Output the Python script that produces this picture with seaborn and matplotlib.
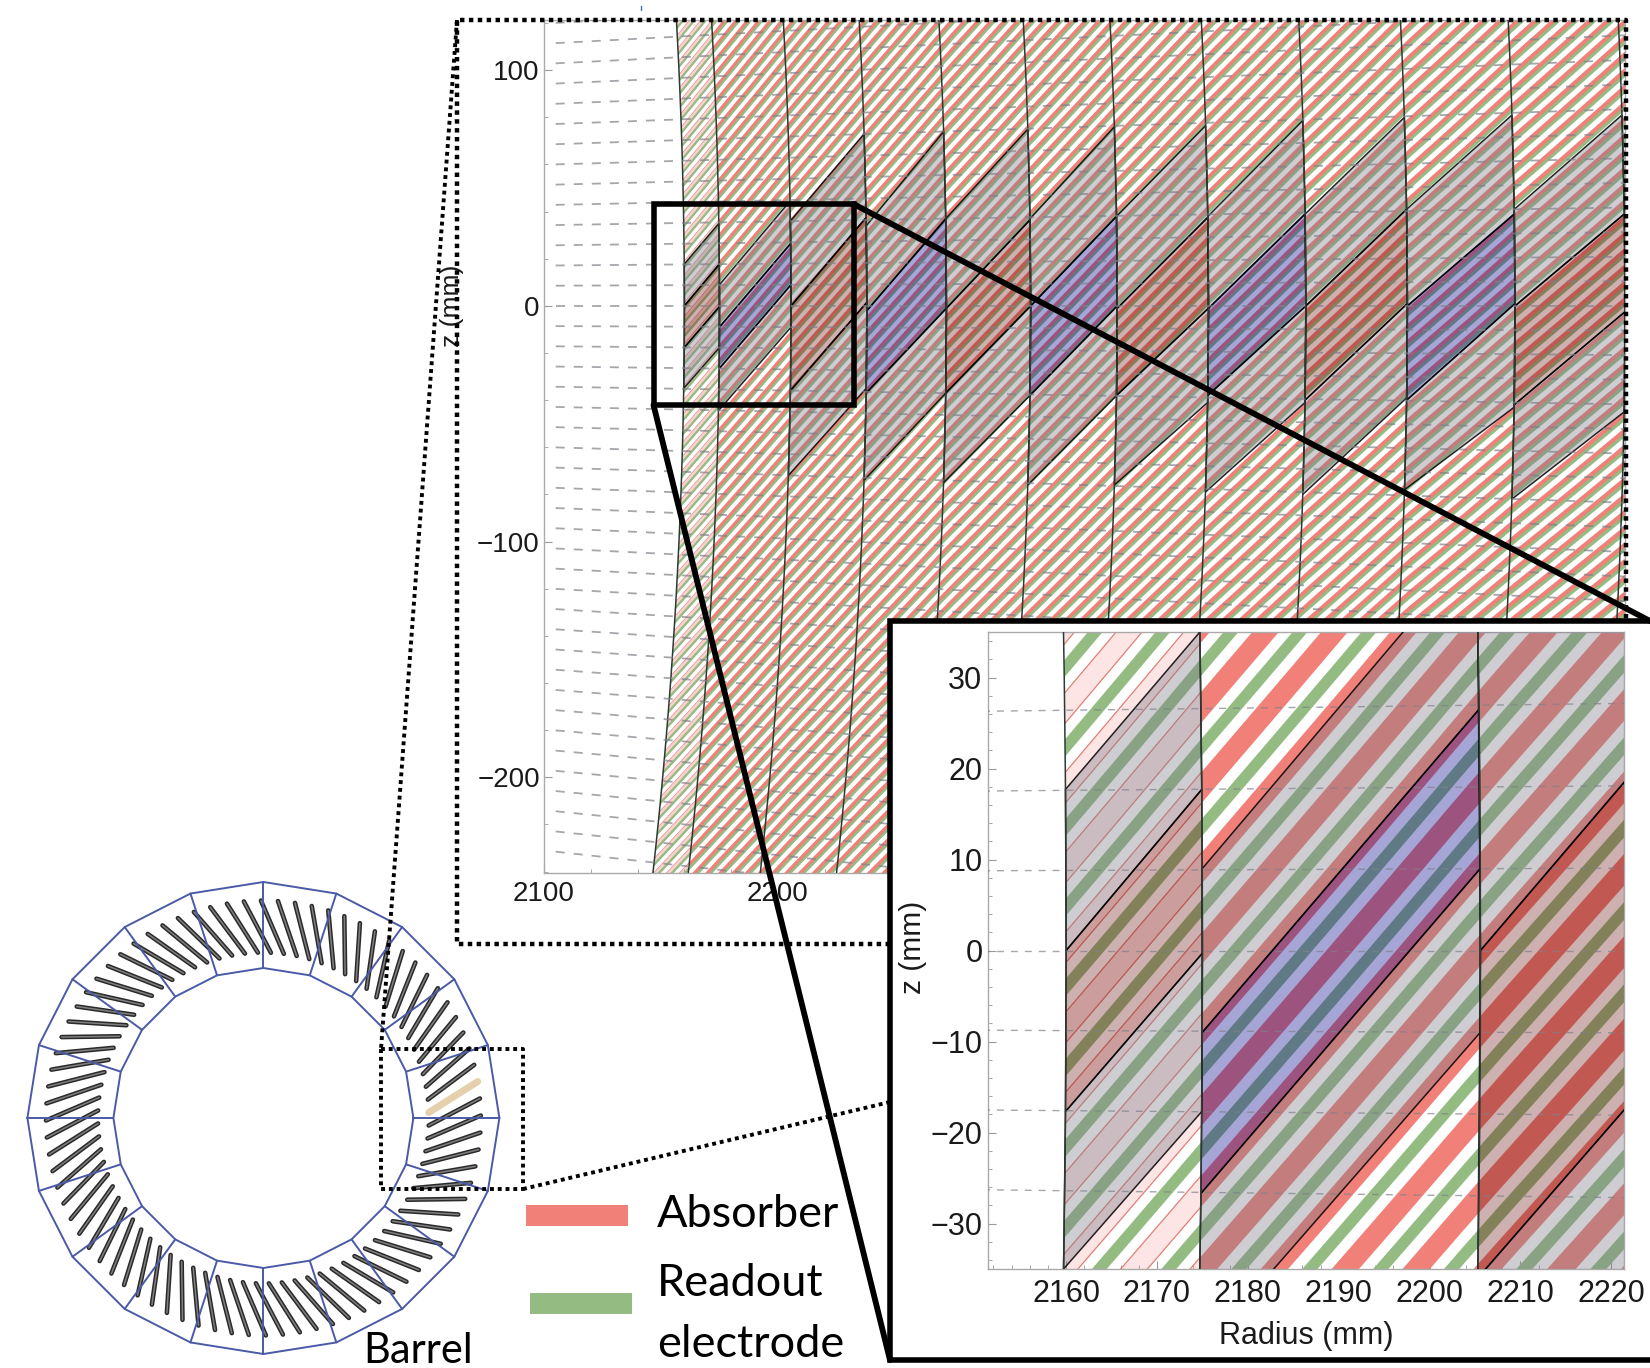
import numpy as np
import pandas as pd
import matplotlib
matplotlib.use('Agg')
import matplotlib.pyplot as plt
from matplotlib.collections import PolyCollection
from matplotlib.path import Path
from matplotlib.patches import Polygon, Rectangle
from matplotlib.ticker import MultipleLocator
import seaborn as sns

sns.set_theme(style='ticks')
plt.rcParams['font.family'] = ['Liberation Sans', 'DejaVu Sans']

# --- Values ---
layer_radius = [2160, 2175, 2205.6, 2238, 2272, 2308, 2345, 2384, 2425.6, 2469, 2515, 2562]

# z of the four tile edges at the inner and outer radius of each layer
tile_z_in = [[17.7, 0, -17.7, -35], [9, -9, -26.7, -44.5], [36, 0, -36, -72], [34, -2, -37, -74],
             [37, -1, -37, -75], [37, 0, -38, -76], [38, -1, -38, -76], [38, -1, -38, -79],
             [39, 0, -40, -80], [41, 0, -40, -78], [41, 0, -42, -82]]
tile_z_out = [[35, 17.7, -0.3, -17.7], [44.5, 26.5, 9, -9], [73, 37.5, 1.5, -35], [74, 37, -1, -37],
              [75, 36.5, 0, -38], [76, 38, 0, -38], [76.5, 37.6, -1, -41], [78.7, 39, 0, -41],
              [80, 41, 1, -39], [81, 39, 1, -43], [81, 39, -2.5, -45]]
tile_middle = ['red', 'blue', 'red', 'blue', 'red', 'blue', 'red', 'blue', 'red', 'blue', 'red']

# how far a plate has moved in z (at r=2160) by each radius
plate_r = [2130, 2160, 2175, 2205.6, 2238, 2272, 2308, 2345, 2384, 2425.6, 2469, 2515, 2570]
plate_rise = [-35, 0, 17.5, 52.5, 88, 123.8, 159.3, 194.7, 230.3, 266.2, 301.8, 336.5, 376]

# the overview is drawn with a finer plate pitch than the zoom
zoom_pitch = 8.8
main_pitch = 5.85
green_start = 4.8
red_start = 0.4
zoom_plates = range(-68, 18)
main_plates = range(-102, 27)

cell_pitch = 8.8
cell_index = range(-27, 15)

main_xticks = [2100, 2200, 2300, 2400, 2500]
main_yticks = [-200, -100, 0, 100]
zoom_xticks = [2160, 2170, 2180, 2190, 2200, 2210, 2220]
zoom_yticks = [-30, -20, -10, 0, 10, 20, 30]

spoke_deg = list(range(0, 360, 18))
rod_number = list(range(80))
rod_first_deg = 6.3
rod_step_deg = 4.5

RED = '#f08078'
GREEN = '#94bc82'
WIRE = '#4a5aa6'


def px_axes(fig, left, top, right, bottom, **kw):
    W, H = 1650, 1368
    return fig.add_axes([left / W, 1 - bottom / H, (right - left) / W, (bottom - top) / H], **kw)


def plate_poly(start, width):
    r = np.linspace(plate_r[0], plate_r[-1], 120)
    centre = (start + np.interp(r, plate_r, plate_rise)) * r / 2160
    half = width / 2 * r / 2160
    return np.r_[np.c_[r, centre + half], np.c_[r[::-1], (centre - half)[::-1]]]


def arc(radius, z):
    return np.sqrt(radius ** 2 - z ** 2)


def draw_detector(ax, plates, pitch, green_share, red_share, pale_alpha, dash_width, edge_width):
    z_span = np.linspace(-300, 300, 61)
    inner = np.c_[arc(layer_radius[0], z_span), z_span]
    second = np.c_[arc(layer_radius[1], z_span), z_span]
    last = np.c_[np.full(61, 2700.0), z_span]
    region1 = Path(np.r_[inner, second[::-1], inner[:1]])
    region2 = Path(np.r_[second, last[::-1], second[:1]])

    green = [plate_poly(green_start + k * pitch, green_share * pitch) for k in plates]
    red = [plate_poly(red_start + k * pitch, red_share * pitch) for k in plates]

    # front layer has pale absorber with thin edges, the rest is solid
    pale = PolyCollection(red, facecolors=(0.94, 0.5, 0.47, pale_alpha), edgecolors=(0.85, 0.35, 0.3, 0.75),
                          linewidths=edge_width, zorder=2)
    solid = PolyCollection(red, facecolors=RED, edgecolors='none', zorder=2)
    ax.add_collection(pale)
    ax.add_collection(solid)
    pale.set_clip_path(region1, ax.transData)
    solid.set_clip_path(region2, ax.transData)

    g_all = PolyCollection(green, facecolors=GREEN, edgecolors='none', zorder=2)
    ax.add_collection(g_all)
    g_all.set_clip_path(Path(np.r_[inner, last[::-1], inner[:1]]), ax.transData)

    # shaded readout tiles
    side_col = (120 / 255, 120 / 255, 135 / 255, 0.37)
    middle_col = {'red': (94 / 255, 0, 0, 0.31), 'blue': (0, 0, 140 / 255, 0.35)}
    for i in range(len(tile_middle)):
        r0, r1 = layer_radius[i], layer_radius[i + 1]
        zi, zo = tile_z_in[i], tile_z_out[i]
        for j in range(3):
            pts = [(arc(r0, zi[j]), zi[j]), (arc(r1, zo[j]), zo[j]),
                   (arc(r1, zo[j + 1]), zo[j + 1]), (arc(r0, zi[j + 1]), zi[j + 1])]
            col = middle_col[tile_middle[i]] if j == 1 else side_col
            ax.add_patch(Polygon(pts, closed=True, facecolor=col, edgecolor=(0, 0, 0, 0.85),
                                 linewidth=1.1, zorder=3))

    # layer boundaries
    rows = []
    for r in layer_radius:
        rows.append(pd.DataFrame({'r': arc(r, z_span), 'z': z_span, 'id': r}))
    sns.lineplot(data=pd.concat(rows), x='r', y='z', units='id', estimator=None, sort=False,
                 color='#2c3a34', linewidth=1.1, zorder=4, ax=ax, legend=False)

    # cell boundaries in eta, straight lines through the origin
    rows = []
    for n in cell_index:
        r = np.array([2105.0, 2570.0])
        rows.append(pd.DataFrame({'r': r, 'z': n * cell_pitch * r / 2160, 'id': n}))
    sns.lineplot(data=pd.concat(rows), x='r', y='z', units='id', estimator=None, sort=False,
                 color='#80808a', alpha=0.7, linewidth=dash_width, linestyle=(0, (5, 5)),
                 zorder=5, ax=ax, legend=False)


def style_axes(ax, xticks, yticks, xminor, yminor, size, xpad, ypad):
    ax.set_xticks(xticks)
    ax.set_yticks(yticks)
    ax.xaxis.set_minor_locator(MultipleLocator(xminor))
    ax.yaxis.set_minor_locator(MultipleLocator(yminor))
    ax.tick_params(which='major', direction='in', length=6, width=0.8, color='#999999',
                   labelsize=size, labelcolor='#1a1a1a')
    ax.tick_params(axis='x', which='major', pad=xpad)
    ax.tick_params(axis='y', which='major', pad=ypad)
    ax.tick_params(which='minor', direction='in', length=3, width=0.7, color='#aaaaaa')
    for s in ax.spines.values():
        s.set_color('#aaaaaa')
        s.set_linewidth(1.0)


fig = plt.figure(figsize=(16.5, 13.68), dpi=100, facecolor='white')

# --- Main plot ---
ax = px_axes(fig, 544, 20, 1625, 873, zorder=1)
draw_detector(ax, main_plates, main_pitch, 0.25, 0.4, 0.35, 1.3, 0.4)
ax.set_xlim(2100, 2562)
ax.set_ylim(-240.6, 121.3)
style_axes(ax, main_xticks, main_yticks, 20, 20, 20, 6, 3)
ax.set_xlabel('')
ax.set_ylabel('z (mm)', fontsize=19, color='#1a1a1a')
ax.yaxis.set_label_coords((464 - 544) / 1081, (873 - 306) / 853)

# --- Zoomed plot ---
az = px_axes(fig, 988, 632, 1624, 1269, zorder=3)
draw_detector(az, zoom_plates, zoom_pitch, 0.215, 0.385, 0.2, 1.0, 0.9)
az.set_xlim(2151.4, 2221.4)
az.set_ylim(-35, 35)
style_axes(az, zoom_xticks, zoom_yticks, 2, 2, 22, 7, 4)
az.set_xlabel('Radius (mm)', fontsize=22, labelpad=9, color='#1a1a1a')
az.set_ylabel('z (mm)', fontsize=21.5, color='#1a1a1a')
az.yaxis.set_label_coords((927 - 988) / 636, (1269 - 947) / 637)

# --- Barrel ring ---
ar = px_axes(fig, 13, 868, 513, 1368, zorder=0)
ar.axis('off')

a = np.radians(spoke_deg + [spoke_deg[0]])
wire = [pd.DataFrame({'x': 236 * np.cos(a), 'y': 236 * np.sin(a), 'id': 'outer'}),
        pd.DataFrame({'x': 150 * np.cos(a), 'y': 150 * np.sin(a), 'id': 'inner'})]
for d in spoke_deg:
    t = np.radians(d)
    wire.append(pd.DataFrame({'x': [150 * np.cos(t), 236 * np.cos(t)],
                              'y': [150 * np.sin(t), 236 * np.sin(t)], 'id': f's{d}'}))

rods = []
for k in rod_number:
    t = np.radians(rod_first_deg + k * rod_step_deg)
    d = t + np.radians(26)
    cx, cy = 191 * np.cos(t), 191 * np.sin(t)
    rods.append(pd.DataFrame({'x': [cx - 29 * np.cos(d), cx + 29 * np.cos(d)],
                              'y': [cy - 29 * np.sin(d), cy + 29 * np.sin(d)], 'id': k}))
rods = pd.concat(rods)
dark = rods[rods['id'] != 0]
sns.lineplot(data=dark, x='x', y='y', units='id', estimator=None, sort=False,
             color='#2a2a2a', linewidth=3.3, ax=ar, legend=False, zorder=2)
sns.lineplot(data=dark, x='x', y='y', units='id', estimator=None, sort=False,
             color='#808080', linewidth=1.1, ax=ar, legend=False, zorder=2)
sns.lineplot(data=rods[rods['id'] == 0], x='x', y='y', units='id', estimator=None, sort=False,
             color='#e4d0ac', linewidth=5, ax=ar, legend=False, zorder=2)
sns.lineplot(data=pd.concat(wire), x='x', y='y', units='id', estimator=None, sort=False,
             color=WIRE, linewidth=1.4, ax=ar, legend=False, zorder=3)
ar.set_xlim(-250.4, 249.6)
ar.set_ylim(-250, 250)

# --- Callouts, in figure pixels ---
ov = px_axes(fig, 0, 0, 1650, 1368, zorder=2)
ov.set_xlim(0, 1650)
ov.set_ylim(1368, 0)
ov.axis('off')
ov.patch.set_alpha(0)

dots = dict(color='black', linestyle=(0, (1, 1)), solid_capstyle='butt')
ov.plot([890, 457, 457, 1626, 1626], [944, 944, 20, 20, 621], linewidth=3.2, **dots)
ov.plot([457, 381], [20, 1049], linewidth=2.8, **dots)
ov.plot([381, 523, 523, 381, 381], [1049, 1049, 1189, 1189, 1049], linewidth=2.8, **dots)
ov.plot([523, 890], [1189, 1102], linewidth=2.8, **dots)

ov.add_patch(Rectangle((890, 621), 780, 739, facecolor='white', edgecolor='black', linewidth=4, zorder=3))
ov.add_patch(Rectangle((653.5, 204), 200, 201, facecolor='none', edgecolor='black', linewidth=4, zorder=3))
ov.plot([853.5, 1650], [204, 621], color='black', linewidth=4.2, zorder=4)
ov.plot([653.5, 890], [405, 1360], color='black', linewidth=4.2, zorder=4)
ov.plot([641, 641], [6, 10], color='#4a6fb5', linewidth=1.0)

ov.add_patch(Rectangle((526, 1205), 102, 21, facecolor=RED, edgecolor='none'))
ov.add_patch(Rectangle((530, 1293), 102, 21, facecolor=GREEN, edgecolor='none'))
label = dict(family='Lato', fontsize=32.5, color='black', ha='left', va='baseline')
ov.text(657, 1227, 'Absorber', **label)
ov.text(657, 1296, 'Readout', **label)
ov.text(657, 1357, 'electrode', **label)
ov.text(363, 1363, 'Barrel', family='Lato', fontsize=30, color='black', ha='left', va='baseline')

fig.savefig('out.png', dpi=100)
